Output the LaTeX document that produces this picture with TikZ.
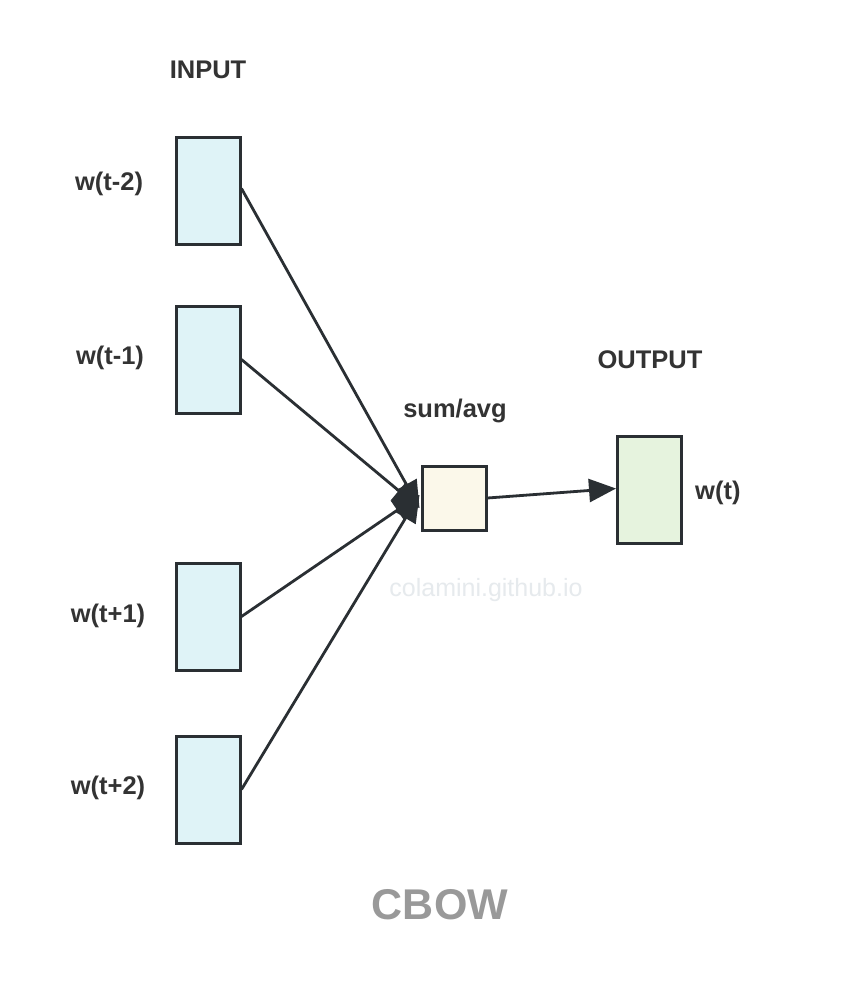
\documentclass[tikz,border=0pt]{standalone}
\usepackage{fontspec}
\setmainfont{Liberation Sans}
\usetikzlibrary{arrows.meta}
\definecolor{inbox}{HTML}{DFF3F7}
\definecolor{sumbox}{HTML}{FBF8EA}
\definecolor{outbox}{HTML}{E6F3DE}
\definecolor{edge}{HTML}{2A2F33}
\definecolor{txt}{HTML}{333333}
\definecolor{title}{HTML}{999999}
\definecolor{wm}{HTML}{E6EAED}
\begin{document}
\begin{tikzpicture}[x=1pt,y=-1pt,
  box/.style={draw=edge,line width=3pt,minimum width=64pt,minimum height=107pt,inner sep=0pt},
  lbl/.style={text=txt,font=\fontsize{25.5}{30}\selectfont\bfseries,inner sep=0pt},
  conn/.style={draw=edge,line width=2.8pt,-{Triangle[length=27pt,width=23pt]}}]
\useasboundingbox (0,0) rectangle (844,994);
\fill[white] (0,0) rectangle (844,994);
% input boxes
\node[box,fill=inbox] (i1) at (208,190.5) {};
\node[box,fill=inbox] (i2) at (208,359.5) {};
\node[box,fill=inbox] (i3) at (208,616.5) {};
\node[box,fill=inbox] (i4) at (208,789.5) {};
\node[box,fill=sumbox,minimum height=64pt] (s) at (454,498) {};
\node[box,fill=outbox] (o) at (649.5,489.5) {};
% labels
\node[lbl] (tin) at (208,70) {INPUT};
\node[lbl] (tout) at (650,360) {OUTPUT};
\node[lbl] (tsum) at (455,411) {sum/avg};
\node[lbl] (l1) at (109,184) {w(t-2)};
\node[lbl] (l2) at (110,358) {w(t-1)};
\node[lbl] (l3) at (108,616) {w(t+1)};
\node[lbl] (l4) at (108,788) {w(t+2)};
\node[lbl,anchor=west] (lo) at (695,493) {w(t)};
\node[text=wm,font=\fontsize{25}{28}\selectfont,inner sep=0pt] (wmk) at (486,590) {colamini.github.io};
\node[text=title,font=\fontsize{43}{48}\selectfont\bfseries,inner sep=0pt] (cbow) at (440,905) {CBOW};
% connectors
\coordinate (eu) at ([xshift=-1pt,yshift=-10pt]s.west);
\coordinate (ed) at ([xshift=-1pt,yshift=3pt]s.west);
\draw[conn] ([yshift=2pt]i1.east) -- (eu);
\draw[conn] (i2.east) -- (eu);
\draw[conn] (i3.east) -- (ed);
\draw[conn] (i4.east) -- (ed);
\draw[conn] (s.east) -- ([yshift=1pt]o.west);
\end{tikzpicture}
\end{document}
